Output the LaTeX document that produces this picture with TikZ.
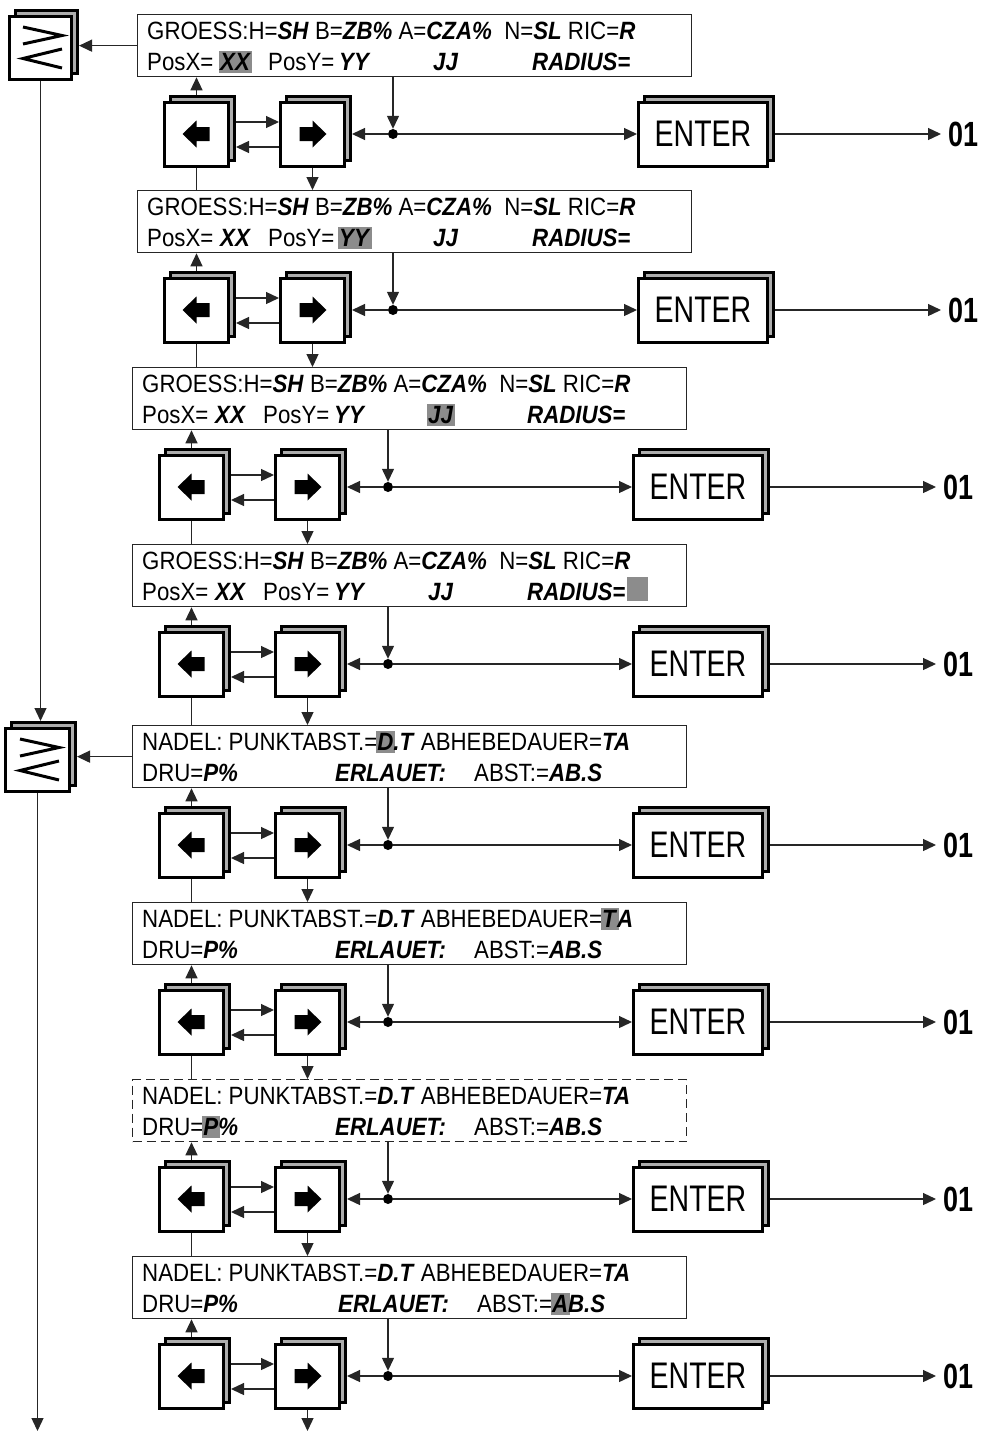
\documentclass[tikz,border=0pt]{standalone}
\usepackage{fontspec}
\setmainfont{Liberation Sans}
\newfontfamily\dispfont[FakeStretch=0.89]{Liberation Sans}
\newfontfamily\keyfont[FakeStretch=0.77]{Liberation Sans}
\usepackage{xcolor}
\usepackage{tikz}
\usetikzlibrary{arrows.meta, shadows, calc}

\definecolor{hlgray}{gray}{0.55}
\definecolor{shadegray}{gray}{0.68}

\newcommand{\bi}[1]{\textbf{\textit{#1}}}
\newcommand{\hlbox}[1]{{\setlength{\fboxsep}{1.5pt}\hspace{-1.5pt}\colorbox{hlgray}{\rule[-1.5pt]{0pt}{19.5pt}#1}\hspace{-1.5pt}}}
\newcommand{\tabslot}[2]{\makebox[#1][l]{#2}}
\newcommand{\cursorbox}{\hspace{2pt}\textcolor{hlgray}{\rule[-1pt]{21pt}{24pt}}}

\begin{document}
\begin{tikzpicture}[x=1pt, y=-1pt, >={Triangle[length=13pt, width=12pt]},
	conn/.style={line width=1.3pt, draw=black!85},
	display/.style={draw=black!85, line width=1.3pt, anchor=north west, minimum width=554pt, minimum height=62pt, inner sep=0pt},
	txt/.style={anchor=base west, inner sep=0pt, font=\dispfont\fontsize{25}{30}\selectfont},
	key/.style={draw, line width=3pt, fill=white, minimum width=64pt, minimum height=64pt, inner sep=0pt,
		copy shadow={shadow xshift=6pt, shadow yshift=6pt, draw=black, fill=shadegray, line width=3pt}},
	enterkey/.style={key, minimum width=129pt, font=\keyfont\fontsize{37}{40}\selectfont},
	dot/.style={circle, fill=black, inner sep=0pt, minimum size=10pt},
	outlabel/.style={anchor=west, inner sep=0pt, font=\keyfont\bfseries\fontsize{35}{40}\selectfont}]

		\useasboundingbox (0,0) rectangle (981,1432);

		% Displays: size entry
		\node[display] (D1) at (137,14) {};
		\node[txt] (D1a) at ([shift={(10,25)}]D1.north west) {GROESS:H=\bi{SH} B=\bi{ZB\%} A=\bi{CZA\%}\ \ N=\bi{SL} RIC=\bi{R}};
		\node[txt] (D1b) at ([shift={(10,56)}]D1.north west) {\tabslot{73pt}{PosX=}\tabslot{48pt}{\hlbox{\bi{XX}}}\tabslot{71pt}{PosY=}\tabslot{94pt}{\bi{YY}}\tabslot{99pt}{\bi{JJ}}\bi{RADIUS=}};

		\node[display] (D2) at (137,190) {};
		\node[txt] (D2a) at ([shift={(10,25)}]D2.north west) {GROESS:H=\bi{SH} B=\bi{ZB\%} A=\bi{CZA\%}\ \ N=\bi{SL} RIC=\bi{R}};
		\node[txt] (D2b) at ([shift={(10,56)}]D2.north west) {\tabslot{73pt}{PosX=}\tabslot{48pt}{\bi{XX}}\tabslot{71pt}{PosY=}\tabslot{94pt}{\hlbox{\bi{YY}}}\tabslot{99pt}{\bi{JJ}}\bi{RADIUS=}};

		\node[display] (D3) at (132,367) {};
		\node[txt] (D3a) at ([shift={(10,25)}]D3.north west) {GROESS:H=\bi{SH} B=\bi{ZB\%} A=\bi{CZA\%}\ \ N=\bi{SL} RIC=\bi{R}};
		\node[txt] (D3b) at ([shift={(10,56)}]D3.north west) {\tabslot{73pt}{PosX=}\tabslot{48pt}{\bi{XX}}\tabslot{71pt}{PosY=}\tabslot{94pt}{\bi{YY}}\tabslot{99pt}{\hlbox{\bi{JJ}}}\bi{RADIUS=}};

		\node[display] (D4) at (132,544) {};
		\node[txt] (D4a) at ([shift={(10,25)}]D4.north west) {GROESS:H=\bi{SH} B=\bi{ZB\%} A=\bi{CZA\%}\ \ N=\bi{SL} RIC=\bi{R}};
		\node[txt] (D4b) at ([shift={(10,56)}]D4.north west) {\tabslot{73pt}{PosX=}\tabslot{48pt}{\bi{XX}}\tabslot{71pt}{PosY=}\tabslot{94pt}{\bi{YY}}\tabslot{99pt}{\bi{JJ}}\bi{RADIUS=}\cursorbox};

		% Displays: needle
		\node[display] (D5) at (132,725) {};
		\node[txt] (D5a) at ([shift={(10,25)}]D5.north west) {NADEL: PUNKTABST.=\hlbox{\bi{D}}\bi{.T} ABHEBEDAUER=\bi{TA}};
		\node[txt] (D5b) at ([shift={(10,56)}]D5.north west) {\tabslot{193pt}{DRU=\bi{P\%}}\tabslot{139pt}{\bi{ERLAUET:}}ABST:=\bi{AB.S}};

		\node[display] (D6) at (132,902) {};
		\node[txt] (D6a) at ([shift={(10,25)}]D6.north west) {NADEL: PUNKTABST.=\bi{D.T} ABHEBEDAUER=\hlbox{\bi{T}}\bi{A}};
		\node[txt] (D6b) at ([shift={(10,56)}]D6.north west) {\tabslot{193pt}{DRU=\bi{P\%}}\tabslot{139pt}{\bi{ERLAUET:}}ABST:=\bi{AB.S}};

		\node[display, dash pattern=on 9pt off 5pt] (D7) at (132,1079) {};
		\node[txt] (D7a) at ([shift={(10,25)}]D7.north west) {NADEL: PUNKTABST.=\bi{D.T} ABHEBEDAUER=\bi{TA}};
		\node[txt] (D7b) at ([shift={(10,56)}]D7.north west) {\tabslot{193pt}{DRU=\hlbox{\bi{P}}\bi{\%}}\tabslot{139pt}{\bi{ERLAUET:}}ABST:=\bi{AB.S}};

		\node[display] (D8) at (132,1256) {};
		\node[txt] (D8a) at ([shift={(10,25)}]D8.north west) {NADEL: PUNKTABST.=\bi{D.T} ABHEBEDAUER=\bi{TA}};
		\node[txt] (D8b) at ([shift={(10,56)}]D8.north west) {\tabslot{196pt}{DRU=\bi{P\%}}\tabslot{139pt}{\bi{ERLAUET:}}ABST:=\hlbox{\bi{A}}\bi{B.S}};

		% Keys of each row, with their connections
		\foreach \i/\t/\s in {1/14/0, 2/190/0, 3/367/-5, 4/544/-5, 5/725/-5, 6/902/-5, 7/1079/-5, 8/1256/-5} {
				\node[key] (L\i) at (196.5+\s, \t+120) {};
				\node[key] (R\i) at (312.5+\s, \t+120) {};
				\node[dot] (J\i) at (393+\s, \t+120) {};
				\node[enterkey] (E\i) at (703+\s, \t+120) {ENTER};
				\node[outlabel] (O\i) at (948+\s, \t+120) {01};

				\fill[shift={(L\i.center)}] (-14,0) -- (0,-13.5) -- (0,-7) -- (13,-7) -- (13,7) -- (0,7) -- (0,13.5) -- cycle;
				\fill[shift={(R\i.center)}] (14,0) -- (0,-13.5) -- (0,-7) -- (-13,-7) -- (-13,7) -- (0,7) -- (0,13.5) -- cycle;

				\draw[conn, ->] ($(L\i.north)+(0,-6)$) -- (L\i.north |- D\i.south);
				\draw[conn, ->] ($(L\i.east)+(6,-12)$) -- ($(R\i.west)+(0,-12)$);
				\draw[conn, ->] ($(R\i.west)+(0,13)$) -- ($(L\i.east)+(6,13)$);
				\draw[conn, ->] (J\i |- D\i.south) -- (J\i.north);
				\draw[conn, ->] (J\i) -- ($(R\i.east)+(6,0)$);
				\draw[conn, ->] (J\i) -- (E\i.west);
				\draw[conn, ->] ($(E\i.east)+(6,0)$) -- ($(O\i.west)+(-7,0)$);
			}

		% From one row down to the next display
		\foreach \i/\j in {1/2, 2/3, 3/4, 4/5, 5/6, 6/7, 7/8} {
				\draw[conn] (L\i.south) -- (L\i.south |- D\j.north);
				\draw[conn, ->] (R\i.south) -- (R\i.south |- D\j.north);
			}
		\coordinate (Rend) at (308,1431);
		\draw[conn, ->] (R8.south) -- (R8.south |- Rend);

		% Group keys at the left
		\node[key, minimum width=62pt, minimum height=63pt] (G1) at (40.5,48) {};
		\node[key, minimum width=64pt, minimum height=63pt] (G2) at (37.5,760) {};
		\foreach \g in {G1, G2} {
				\draw[line width=3pt, shift={(\g.center)}] (-17.5,-21) -- (21.5,-12.5) -- (-17.5,-4) (21.5,1) -- (-17.5,10.5) -- (21.5,20);
			}
		\coordinate (Gend) at (37.5,1431);
		\draw[conn, ->] (D1.west) -- ($(G1.east |- D1.west)+(6,0)$);
		\draw[conn, ->] (D5.west) -- ($(G2.east |- D5.west)+(6,0)$);
		\draw[conn, ->] (G1.south) -- ($(G1.south |- G2.north)+(0,-6)$);
		\draw[conn, ->] (G2.south) -- (G2.south |- Gend);

	\end{tikzpicture}
\end{document}
